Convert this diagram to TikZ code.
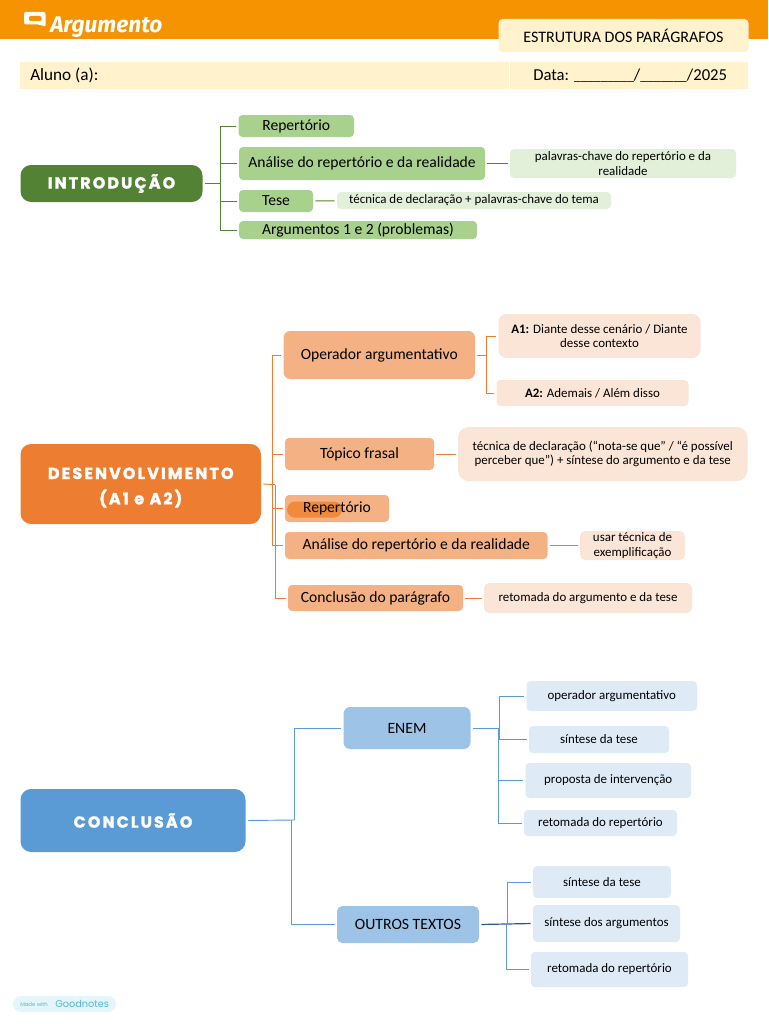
\documentclass[tikz,border=0pt]{standalone}
\usepackage{fontspec}
\setmainfont{Carlito}
\newfontfamily\ttlfont{Poppins}[LetterSpace=13,BoldFeatures={FakeBold=1.6}]
\newfontfamily\argfont{Fira Sans}
\newfontfamily\gnfont{Poppins}
\definecolor{hdr}{HTML}{F59300}
\definecolor{cream}{HTML}{FFF2CC}
\definecolor{gA}{HTML}{548235}\definecolor{gB}{HTML}{A9D18E}\definecolor{gC}{HTML}{E2F0D9}
\definecolor{oA}{HTML}{ED7D31}\definecolor{oB}{HTML}{F4B183}\definecolor{oC}{HTML}{FBE5D6}
\definecolor{bA}{HTML}{5B9BD5}\definecolor{bB}{HTML}{9DC3E6}\definecolor{bC}{HTML}{DEEBF7}
\definecolor{bD}{HTML}{2F5597}
\definecolor{hl}{HTML}{F08A3C}
\definecolor{gn}{HTML}{E5F6FB}\definecolor{gnt}{HTML}{4FB8D6}
\tikzset{
  boxbase/.style={inner sep=0pt,align=center,text=black,rounded corners=3pt},
  mainbox/.style={boxbase,text=white,rounded corners=8pt,font=\ttlfont\bfseries\fontsize{12}{19}\selectfont},
  midbox/.style={boxbase,font=\fontsize{11.7}{14}\selectfont},
  smallbox/.style={boxbase,font=\fontsize{9.7}{11}\selectfont},
  wire/.style={line width=.7pt,shorten >=1.5pt,shorten <=1.5pt},
  gwire/.style={wire,draw=gA},
  owire/.style={wire,draw=oA},
  bwire/.style={wire,draw=bA},
}
\newcommand{\bx}[8][]{\node[#2,#1,minimum width={(#6-#4)*0.75pt},minimum height={(#7-#5)*0.75pt}] (#3) at ({(#4+#6)/2},{(#5+#7)/2}) {#8};}
\begin{document}
\begin{tikzpicture}[x=0.75pt,y=-0.75pt]
\useasboundingbox (0,0) rectangle (768,1024);
% header
\fill[hdr] (0,0) rectangle (768,39);
\fill[white,rounded corners=1.5pt] (24,12) -- (45.5,12) -- (45.5,27) -- (40,24.5) -- (24,24.5) -- cycle;
\fill[hdr,rounded corners=1pt] (29,16) rectangle (41.5,21);
\node[inner sep=0pt,text=white,anchor=west,font=\argfont\bfseries\itshape\fontsize{17}{18}\selectfont] (logo) at (50,27) {Argumento};
\bx[fill=cream]{boxbase,font=\fontsize{12}{14}\selectfont}{estr}{498.5}{19}{748.5}{52}{ESTRUTURA DOS PARÁGRAFOS}
\fill[cream] (20,62) rectangle (508.5,89);
\fill[cream] (510,62) rectangle (747.5,89);
\node[inner sep=0pt,anchor=west,font=\fontsize{12.9}{15}\selectfont] (aluno) at (30,75.5) {Aluno (a):};
\node[inner sep=0pt,anchor=west,font=\fontsize{12.5}{15}\selectfont] (data) at (533,75.5) {Data: {\fontsize{10}{12}\selectfont\_\_\_\_\_\_\_\_\_}/{\fontsize{10}{12}\selectfont\_\_\_\_\_\_\_}/2025};
% introducao
\bx[fill=gA]{mainbox}{intro}{20.5}{165}{202.5}{202}{INTRODUÇÃO}
\bx[fill=gB]{midbox}{iRep}{238.5}{115}{354}{137}{Repertório}
\bx[fill=gB]{midbox}{iAna}{239}{147}{485}{180}{Análise do repertório e da realidade}
\bx[fill=gC]{smallbox}{iPal}{510}{149}{736}{178}{palavras-chave do repertório e da\\realidade}
\bx[fill=gB]{midbox}{iTes}{239}{190}{313}{212}{Tese}
\bx[fill=gC]{smallbox}{iTec}{337}{192}{611}{209}{técnica de declaração + palavras-chave do tema}
\bx[fill=gB]{midbox}{iArg}{239}{221}{477}{239}{Argumentos 1 e 2 (problemas)}
\coordinate (jI) at (220.5,183.5);
\draw[gwire,shorten >=0pt] (intro.east) -- (jI);
\foreach \t in {iRep,iAna,iTes,iArg}{\draw[gwire,shorten <=0pt] (jI) |- (\t.west);}
\draw[gwire] (iAna) -- (iPal);
\draw[gwire] (iTes) -- (iTec);
% desenvolvimento
\bx[fill=oA]{mainbox}{dev}{20.5}{444}{261}{524}{\rule{0pt}{14pt}DESENVOLVIMENTO\\(A1 e A2)}
\bx[fill=oB]{midbox,rounded corners=5pt}{dOp}{283.5}{331}{475}{379}{Operador argumentativo}
\bx[fill=oC]{smallbox,rounded corners=6pt}{dA1}{498.5}{314}{700.5}{358}{\textbf{A1:} Diante desse cenário / Diante\\desse contexto}
\bx[fill=oC]{smallbox}{dA2}{496.5}{380}{688.5}{406}{\textbf{A2:} Ademais / Além disso}
\bx[fill=oB]{midbox}{dTop}{285}{438}{434}{470}{Tópico frasal}
\bx[fill=oC]{smallbox,rounded corners=8pt}{dTec}{458}{427}{747.5}{481}{técnica de declaração (“nota-se que” / “é possível\\perceber que”) + síntese do argumento e da tese}
\bx[fill=oB,path picture={\fill[hl,rounded corners=6pt] (-16,-11) rectangle (39,5);}]{midbox}{dRep}{285}{495}{389}{522}{Repertório}
\bx[fill=oB]{midbox}{dAna}{285}{532}{547.5}{559}{Análise do repertório e da realidade}
\bx[fill=oC]{smallbox,rounded corners=4pt}{dUsa}{580}{531}{685}{560}{usar técnica de\\exemplificação}
\bx[fill=oB]{midbox}{dCon}{288}{585}{463}{611}{Conclusão do parágrafo}
\bx[fill=oC]{smallbox,rounded corners=4pt}{dRet}{484}{583}{692}{613}{retomada do argumento e da tese}
\coordinate (jDa) at (272.5,484.5);
\coordinate (jDb) at (275,484.5);
\draw[owire,shorten >=0pt] (dev.east) -- (jDb);
\foreach \t in {dOp,dTop,dRep,dAna}{\draw[owire,shorten <=0pt] (jDa) |- (\t.west);}
\draw[owire,shorten <=0pt] (jDb) |- (dCon.west);
\coordinate (jO) at (486,355);
\draw[owire,shorten >=0pt] (dOp.east) -- (jO);
\draw[owire,shorten <=0pt] (jO) |- (dA1.west);
\draw[owire,shorten <=0pt] (jO) |- (dA2.west);
\draw[owire] (dTop) -- (dTec);
\draw[owire,line width=.9pt] (dAna) -- (dUsa);
\draw[owire] (dCon) -- (dRet);
% conclusao
\bx[fill=bA]{mainbox}{con}{20.5}{789}{245.5}{852}{CONCLUSÃO}
\bx[fill=bB]{midbox,rounded corners=5pt,font=\fontsize{11.8}{14}\selectfont}{cEn}{343.5}{707}{470.5}{749}{ENEM}
\bx[fill=bB]{midbox,rounded corners=4pt,font=\fontsize{11.8}{14}\selectfont}{cOu}{337}{906}{479}{943}{OUTROS TEXTOS}
\bx[fill=bC]{smallbox}{cOp}{526.5}{681}{697}{711}{operador argumentativo}
\bx[fill=bC]{smallbox}{cSi}{529}{726}{669}{753}{síntese da tese}
\bx[fill=bC]{smallbox}{cPr}{525.5}{763}{691}{798}{proposta de intervenção}
\bx[fill=bC]{smallbox}{cRe}{524}{810}{677}{836}{retomada do repertório}
\bx[fill=bC]{smallbox}{cSb}{533}{866}{671}{898}{síntese da tese}
\bx[fill=bC]{smallbox}{cAr}{533}{905}{680}{942}{síntese dos argumentos}
\bx[fill=bC]{smallbox}{cRb}{531}{952}{688}{987}{retomada do repertório}
\coordinate (jCa) at (294.5,820);
\coordinate (jCb) at (291.5,820);
\draw[bwire,shorten >=0pt] (con.east) -- (jCa);
\draw[bwire,shorten <=0pt] (jCa) |- (cEn.west);
\draw[bwire,shorten <=0pt] (jCb) |- (cOu.west);
\coordinate (jEa) at (499,728);
\coordinate (jEb) at (498,728);
\draw[bwire,shorten >=0pt] (cEn.east) -- (jEa);
\draw[bwire,shorten <=0pt] (jEa) |- (cOp.west);
\draw[bwire,shorten <=0pt,line width=.9pt] (jEa) |- (cSi.west);
\draw[bwire,shorten <=0pt] (jEb) |- (cPr.west);
\draw[bwire,shorten <=0pt] (jEb) |- (cRe.west);
\coordinate (jUa) at (507,924);
\coordinate (jUb) at (506,924);
\draw[wire,draw=bD,line width=.9pt] (cOu.east) -- (cAr.west);
\draw[bwire,shorten <=0pt] (jUa) |- (cSb.west);
\draw[bwire,shorten <=0pt] (jUb) |- (cRb.west);
% badge
\bx[fill=gn]{boxbase,rounded corners=6pt}{badge}{13}{996}{116}{1012}{}
\node[inner sep=0pt,anchor=west,text=gnt,font=\gnfont\fontsize{4}{5}\selectfont] (madew) at (20,1004) {Made with};
\node[inner sep=0pt,anchor=west,text=gnt,font=\gnfont\fontsize{7.3}{9}\selectfont] (gnote) at (55,1004) {Goodnotes};
\end{tikzpicture}
\end{document}
